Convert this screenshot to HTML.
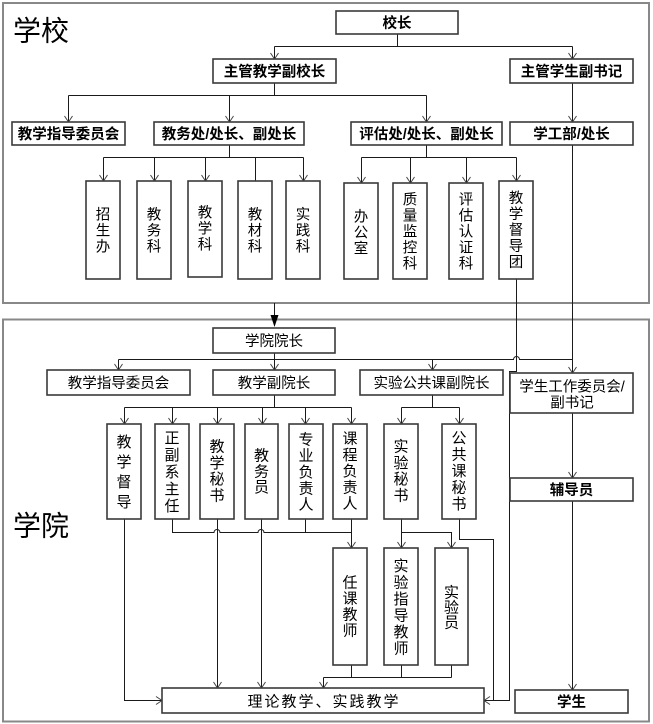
<!DOCTYPE html>
<html><head><meta charset="utf-8"><style>
html,body{margin:0;padding:0;background:#fff;}
svg{display:block;}
text{font-family:"Liberation Sans","Noto Sans CJK SC",sans-serif;fill:#000;}
.b{font-weight:bold;font-size:14.5px;}
.r{font-size:14.5px;}
.v{font-size:14.5px;}
.w{font-size:15px;}
.box{fill:#fff;stroke:#3a3a3a;stroke-width:1.6;}
.ln{fill:none;stroke:#1a1a1a;stroke-width:1;}
.ar{fill:none;stroke:#444;stroke-width:1;}
</style></head><body>
<svg width="653" height="724" viewBox="0 0 653 724" xmlns="http://www.w3.org/2000/svg">
<!-- outer frames -->
<rect x="3" y="3" width="646" height="300" fill="none" stroke="#888" stroke-width="2"/>
<rect x="3" y="319.5" width="646" height="402" fill="none" stroke="#888" stroke-width="2"/>
<text x="13" y="40.6" style="font-size:28px">学校</text>
<text x="13" y="535.6" style="font-size:28px">学院</text>

<!-- connectors top -->
<g class="ln">
<path d="M397.5 34 V46.5 M274.5 46.5 H572.5 M274.5 46.5 V59 M572.5 46.5 V59"/>
<path d="M274.5 83 V95.5 M68.5 95.5 H426.5 M68.5 95.5 V122 M229.5 95.5 V122 M426.5 95.5 V122"/>
<path d="M572.5 83 V122"/>
<path d="M229.5 145 V157.5 M103.5 157.5 H303.5 M103.5 157.5 V181 M154.5 157.5 V181 M205.5 157.5 V181 M255.5 157.5 V181 M303.5 157.5 V181"/>
<path d="M426.5 145 V157.5 M361.5 157.5 H516.5 M361.5 157.5 V183 M410.5 157.5 V183 M466.5 157.5 V183 M516.5 157.5 V181"/>
<path d="M572.5 145 V373"/>
<!-- 教学督导团 connector -->
<path d="M516.5 279 V371.5 H509.5 V700.5 H484"/>
<path d="M274.5 303 V316"/>
<!-- lower -->
<path d="M274.5 353 V359.5 M118.5 359.5 H513.5 A3 3 0 0 1 519.5 359.5 H572.5 M118.5 359.5 V370 M274.5 359.5 V370 M432.5 359.5 V370"/>
<path d="M572.5 413 V478 M572.5 501 V690"/>
<path d="M274.5 395 V407.5 M124.5 407.5 H351.5 M124.5 407.5 V424 M172.5 407.5 V424 M217.5 407.5 V424 M262.5 407.5 V424 M305.5 407.5 V424 M351.5 407.5 V424"/>
<path d="M432.5 395 V407.5 M401.5 407.5 H459.5 M401.5 407.5 V424 M459.5 407.5 V424"/>
<path d="M124.5 519 V700.5 H162"/>
<path d="M172.5 519 V532.5 H214 A3 3 0 0 1 220 532.5 H258 A3 3 0 0 1 264 532.5 H351.5 M305.5 519 V532.5 M351.5 519 V548"/>
<path d="M217.5 519 V688 M261.5 519 V688"/>
<path d="M401.5 519 V548 M401.5 532.5 H451.5 V548"/>
<path d="M459.5 519 V539.5 H493.5 V700.5"/>
<path d="M351.5 665 V677.5 M401.5 665 V677.5 M451.5 665 V677.5 M323.5 677.5 H451.5 M323.5 677.5 V688"/>
</g>

<!-- arrowheads -->
<g class="ar">
<polyline points="270.5,53 274.5,59 278.5,53"/>
<polyline points="568.5,53 572.5,59 576.5,53"/>
<polyline points="64.5,116 68.5,122 72.5,116"/>
<polyline points="225.5,116 229.5,122 233.5,116"/>
<polyline points="422.5,116 426.5,122 430.5,116"/>
<polyline points="568.5,116 572.5,122 576.5,116"/>
<polyline points="99.5,175 103.5,181 107.5,175"/>
<polyline points="150.5,175 154.5,181 158.5,175"/>
<polyline points="201.5,175 205.5,181 209.5,175"/>
<polyline points="299.5,175 303.5,181 307.5,175"/>
<polyline points="357.5,177 361.5,183 365.5,177"/>
<polyline points="406.5,177 410.5,183 414.5,177"/>
<polyline points="462.5,177 466.5,183 470.5,177"/>
<polyline points="512.5,175 516.5,181 520.5,175"/>
<polyline points="114.5,364 118.5,370 122.5,364"/>
<polyline points="270.5,364 274.5,370 278.5,364"/>
<polyline points="428.5,364 432.5,370 436.5,364"/>
<polyline points="568.5,367 572.5,373 576.5,367"/>
<polyline points="568.5,472 572.5,478 576.5,472"/>
<polyline points="568.5,684 572.5,690 576.5,684"/>
<polyline points="120.5,418 124.5,424 128.5,418"/>
<polyline points="168.5,418 172.5,424 176.5,418"/>
<polyline points="213.5,418 217.5,424 221.5,418"/>
<polyline points="258.5,418 262.5,424 266.5,418"/>
<polyline points="301.5,418 305.5,424 309.5,418"/>
<polyline points="347.5,418 351.5,424 355.5,418"/>
<polyline points="397.5,418 401.5,424 405.5,418"/>
<polyline points="455.5,418 459.5,424 463.5,418"/>
<polyline points="347.5,542 351.5,548 355.5,542"/>
<polyline points="397.5,542 401.5,548 405.5,542"/>
<polyline points="447.5,542 451.5,548 455.5,542"/>
<polyline points="213.5,682 217.5,688 221.5,682"/>
<polyline points="257.5,682 261.5,688 265.5,682"/>
<polyline points="319.5,682 323.5,688 327.5,682"/>
<polyline points="156,696.5 162,700.5 156,704.5"/>
<polyline points="490,696.5 484,700.5 490,704.5"/>
</g>
<polygon points="270.5,315 278.5,315 274.5,327" fill="#000"/>

<!-- top boxes -->
<rect class="box" x="336" y="11" width="122" height="23"/>
<rect class="box" x="213" y="59" width="123" height="24"/>
<rect class="box" x="510" y="59" width="123" height="24"/>
<rect class="box" x="12" y="122" width="113" height="23"/>
<rect class="box" x="154" y="122" width="150" height="23"/>
<rect class="box" x="351" y="122" width="151" height="23"/>
<rect class="box" x="510" y="122" width="123" height="23"/>
<rect class="box" x="86" y="181" width="34" height="98"/>
<rect class="box" x="137" y="181" width="34" height="98"/>
<rect class="box" x="188" y="181" width="34" height="96"/>
<rect class="box" x="238" y="181" width="34" height="98"/>
<rect class="box" x="286" y="181" width="34" height="98"/>
<rect class="box" x="344" y="183" width="34" height="96"/>
<rect class="box" x="393" y="183" width="34" height="96"/>
<rect class="box" x="449" y="183" width="34" height="96"/>
<rect class="box" x="499" y="181" width="34" height="98"/>

<!-- lower boxes -->
<rect class="box" x="213" y="328" width="122" height="25"/>
<rect class="box" x="47" y="370" width="143" height="25"/>
<rect class="box" x="213" y="370" width="122" height="25"/>
<rect class="box" x="360" y="370" width="143" height="25"/>
<rect class="box" x="510" y="373" width="123" height="40"/>
<rect class="box" x="510" y="478" width="123" height="23"/>
<rect class="box" x="107" y="424" width="34" height="95"/>
<rect class="box" x="155" y="424" width="34" height="95"/>
<rect class="box" x="200" y="424" width="34" height="95"/>
<rect class="box" x="245" y="424" width="33" height="95"/>
<rect class="box" x="289" y="424" width="34" height="95"/>
<rect class="box" x="333" y="424" width="34" height="95"/>
<rect class="box" x="384" y="424" width="34" height="95"/>
<rect class="box" x="442" y="424" width="34" height="95"/>
<rect class="box" x="333" y="548" width="34" height="117"/>
<rect class="box" x="384" y="548" width="34" height="117"/>
<rect class="box" x="435" y="548" width="33" height="117"/>
<rect class="box" x="162" y="688" width="322" height="25"/>
<rect class="box" x="515" y="690" width="113" height="23"/>

<!-- top texts -->
<g class="b" text-anchor="middle">
<text x="397" y="28">校长</text>
<text x="274.5" y="76.5">主管教学副校长</text>
<text x="571.5" y="76.5">主管学生副书记</text>
<text x="68.5" y="139">教学指导委员会</text>
<text x="229" y="139">教务处/处长、副处长</text>
<text x="426.5" y="139">评估处/处长、副处长</text>
<text x="571.5" y="139">学工部/处长</text>
</g>
<g class="v" text-anchor="middle">
<text x="103" y="219.5">招</text><text x="103" y="235.5">生</text><text x="103" y="251.5">办</text>
<text x="154" y="219.5">教</text><text x="154" y="235.5">务</text><text x="154" y="251.5">科</text>
<text x="205" y="217.5">教</text><text x="205" y="233.5">学</text><text x="205" y="249.5">科</text>
<text x="255" y="219.5">教</text><text x="255" y="235.5">材</text><text x="255" y="251.5">科</text>
<text x="303" y="219.5">实</text><text x="303" y="235.5">践</text><text x="303" y="251.5">科</text>
<text x="361" y="221.5">办</text><text x="361" y="237.5">公</text><text x="361" y="253.5">室</text>
<text x="410" y="204.5">质</text><text x="410" y="220.5">量</text><text x="410" y="236.5">监</text><text x="410" y="252.5">控</text><text x="410" y="268.5">科</text>
<text x="466" y="204.5">评</text><text x="466" y="220.5">估</text><text x="466" y="236.5">认</text><text x="466" y="252.5">证</text><text x="466" y="268.5">科</text>
<text x="516" y="203">教</text><text x="516" y="219">学</text><text x="516" y="235">督</text><text x="516" y="251">导</text><text x="516" y="267">团</text>
</g>

<!-- lower texts -->
<g class="r" text-anchor="middle">
<text x="274" y="346">学院院长</text>
<text x="118.5" y="388">教学指导委员会</text>
<text x="274" y="388">教学副院长</text>
<text x="431.5" y="388">实验公共课副院长</text>
<text x="572" y="391.5">学生工作委员会/</text>
<text x="572" y="407.5">副书记</text>
</g>
<g class="b" text-anchor="middle">
<text x="571.5" y="495">辅导员</text>
<text x="571.5" y="707">学生</text>
</g>
<text x="324" y="706.3" text-anchor="middle" style="font-size:15px;letter-spacing:2px">理论教学、实践教学</text>

<g class="w" text-anchor="middle">
<text x="124" y="447">教</text><text x="124" y="467">学</text><text x="124" y="487">督</text><text x="124" y="507">导</text>
<text x="172" y="443">正</text><text x="172" y="460">副</text><text x="172" y="477">系</text><text x="172" y="494">主</text><text x="172" y="511">任</text>
<text x="217" y="451.5">教</text><text x="217" y="467.8">学</text><text x="217" y="484">秘</text><text x="217" y="500.3">书</text>
<text x="261.5" y="460.5">教</text><text x="261.5" y="476.3">务</text><text x="261.5" y="492">员</text>
<text x="306" y="444.3">专</text><text x="306" y="460.6">业</text><text x="306" y="477">负</text><text x="306" y="493.3">责</text><text x="306" y="509.6">人</text>
<text x="350" y="443.5">课</text><text x="350" y="459.8">程</text><text x="350" y="476.1">负</text><text x="350" y="492.4">责</text><text x="350" y="508.7">人</text>
<text x="401" y="451.5">实</text><text x="401" y="467.8">验</text><text x="401" y="484">秘</text><text x="401" y="500.3">书</text>
<text x="459" y="443">公</text><text x="459" y="459.5">共</text><text x="459" y="476">课</text><text x="459" y="492.5">秘</text><text x="459" y="509">书</text>
<text x="350" y="587.5">任</text><text x="350" y="603.5">课</text><text x="350" y="619.5">教</text><text x="350" y="635.5">师</text>
<text x="401" y="571">实</text><text x="401" y="587.5">验</text><text x="401" y="604">指</text><text x="401" y="620.5">导</text><text x="401" y="637">教</text><text x="401" y="653.5">师</text>
<text x="451.5" y="597.5">实</text><text x="451.5" y="612.5">验</text><text x="451.5" y="627.5">员</text>
</g>
</svg>
</body></html>
